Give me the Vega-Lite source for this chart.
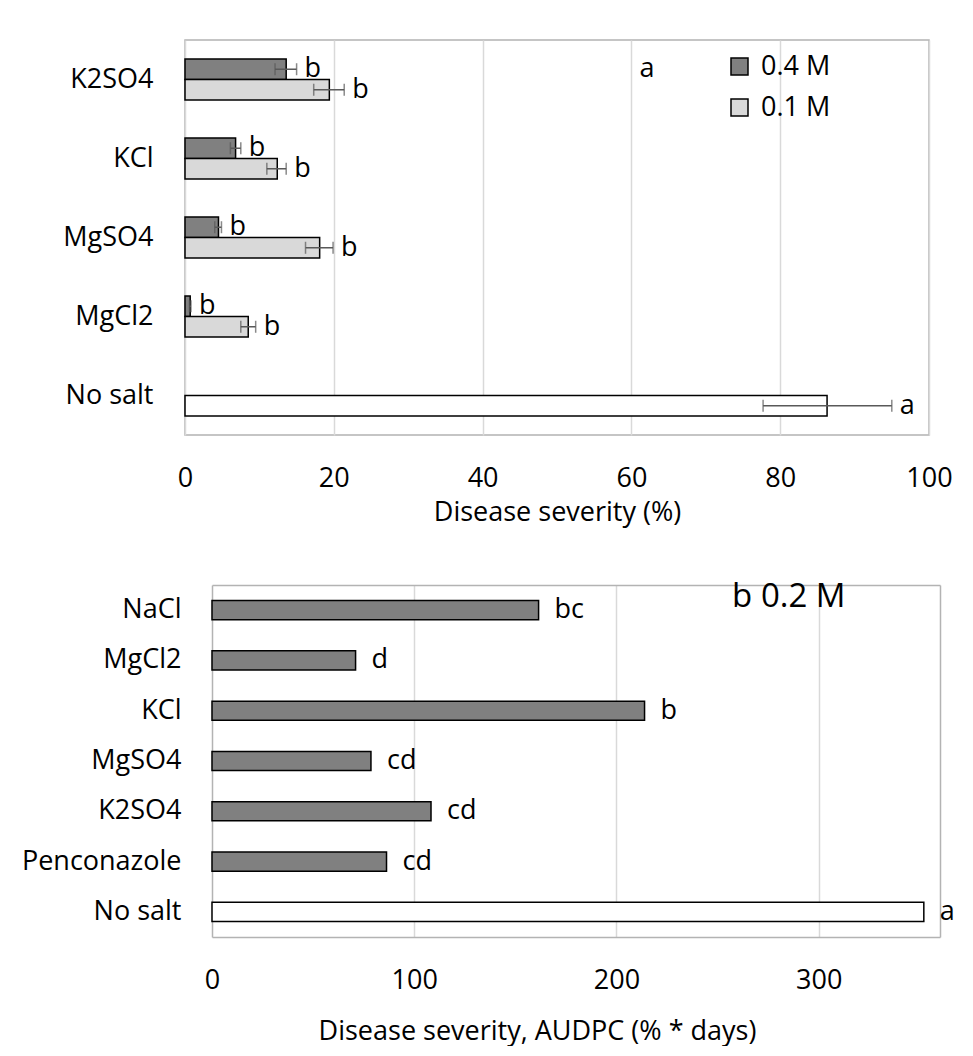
{
  "$schema": "https://vega.github.io/schema/vega-lite/v6.json",
  "background": "white",
  "padding": {"left": 21, "top": 39, "right": 5, "bottom": 2},
  "config": {
    "font": "Open Sans",
    "view": {"stroke": "#b3b3b3", "strokeWidth": 1.5},
    "axis": {
      "labelFont": "Open Sans", "titleFont": "Open Sans",
      "labelFontSize": 27, "titleFontSize": 27,
      "labelColor": "#000000", "titleColor": "#000000",
      "titleFontWeight": "normal", "ticks": false, "tickSize": 0, "domain": false
    },
    "text": {"font": "Open Sans", "color": "#000000"}
  },
  "spacing": 54,
  "resolve": {"scale": {"color": "independent", "x": "independent", "y": "independent"}, "legend": {"color": "independent"}},
  "vconcat": [
    {
      "width": 744,
      "height": 395,
      "data": {"values": [
        {"salt": "K2SO4", "conc": "0.4 M", "fillkey": "0.4 M", "value": 13.6, "lo": 12.1, "hi": 15.0, "letter": "b"},
        {"salt": "K2SO4", "conc": "0.1 M", "fillkey": "0.1 M", "value": 19.4, "lo": 17.3, "hi": 21.4, "letter": "b"},
        {"salt": "KCl", "conc": "0.4 M", "fillkey": "0.4 M", "value": 6.8, "lo": 6.1, "hi": 7.5, "letter": "b"},
        {"salt": "KCl", "conc": "0.1 M", "fillkey": "0.1 M", "value": 12.4, "lo": 11.0, "hi": 13.6, "letter": "b"},
        {"salt": "MgSO4", "conc": "0.4 M", "fillkey": "0.4 M", "value": 4.5, "lo": 4.0, "hi": 4.9, "letter": "b"},
        {"salt": "MgSO4", "conc": "0.1 M", "fillkey": "0.1 M", "value": 18.1, "lo": 16.2, "hi": 19.9, "letter": "b"},
        {"salt": "MgCl2", "conc": "0.4 M", "fillkey": "0.4 M", "value": 0.7, "lo": 0.6, "hi": 0.8, "letter": "b"},
        {"salt": "MgCl2", "conc": "0.1 M", "fillkey": "0.1 M", "value": 8.5, "lo": 7.5, "hi": 9.5, "letter": "b"},
        {"salt": "No salt", "conc": "0.1 M", "fillkey": "No salt", "value": 86.3, "lo": 77.7, "hi": 95.0, "letter": "a"}
      ]},
      "encoding": {
        "y": {
          "field": "salt", "type": "nominal",
          "sort": ["K2SO4", "KCl", "MgSO4", "MgCl2", "No salt"],
          "scale": {"paddingInner": 0.48, "paddingOuter": 0.24},
          "axis": {"title": null, "labelPadding": 32}
        }
      },
      "layer": [
        {
          "mark": {"type": "bar", "stroke": "#000000", "strokeWidth": 1.5},
          "encoding": {
            "yOffset": {"field": "conc", "type": "nominal", "sort": ["0.4 M", "0.1 M"]},
            "x": {
              "field": "value", "type": "quantitative",
              "scale": {"domain": [0, 100], "nice": false},
              "axis": {
                "title": "Disease severity (%)", "values": [0, 20, 40, 60, 80, 100],
                "grid": true, "gridColor": "#d9d9d9", "gridWidth": 1.5,
                "labelPadding": 30, "titlePadding": 8, "labelFlush": false
              }
            },
            "color": {
              "field": "fillkey", "type": "nominal",
              "scale": {"domain": ["0.4 M", "0.1 M", "No salt"], "range": ["#808080", "#d9d9d9", "#ffffff"]},
              "legend": {
                "orient": "none", "legendX": 541, "legendY": 13, "title": null,
                "values": ["0.4 M", "0.1 M"], "symbolType": "square", "symbolSize": 289,
                "symbolStrokeColor": "#000000", "symbolStrokeWidth": 1.5,
                "labelFontSize": 27, "labelFont": "Open Sans", "labelColor": "#000000",
                "rowPadding": 13, "labelOffset": 8, "padding": 0
              }
            }
          }
        },
        {
          "mark": {"type": "rule", "color": "#595959", "strokeWidth": 1.5},
          "encoding": {
            "yOffset": {"field": "conc", "type": "nominal", "sort": ["0.4 M", "0.1 M"]},
            "x": {"field": "lo", "type": "quantitative"},
            "x2": {"field": "hi"}
          }
        },
        {
          "mark": {"type": "tick", "color": "#595959", "thickness": 1.5, "size": 12},
          "encoding": {
            "yOffset": {"field": "conc", "type": "nominal", "sort": ["0.4 M", "0.1 M"]},
            "x": {"field": "lo", "type": "quantitative"}
          }
        },
        {
          "mark": {"type": "tick", "color": "#595959", "thickness": 1.5, "size": 12},
          "encoding": {
            "yOffset": {"field": "conc", "type": "nominal", "sort": ["0.4 M", "0.1 M"]},
            "x": {"field": "hi", "type": "quantitative"}
          }
        },
        {
          "mark": {"type": "text", "align": "left", "baseline": "middle", "dx": 8, "fontSize": 27},
          "encoding": {
            "yOffset": {"field": "conc", "type": "nominal", "sort": ["0.4 M", "0.1 M"]},
            "x": {"field": "hi", "type": "quantitative"},
            "text": {"field": "letter"}
          }
        },
        {
          "data": {"values": [{"label": "a"}]},
          "mark": {"type": "text", "align": "left", "baseline": "middle", "fontSize": 27, "dy": -11},
          "encoding": {
            "x": {"datum": 61.1, "type": "quantitative"},
            "y": {"datum": "K2SO4", "type": "nominal"},
            "text": {"field": "label"}
          }
        }
      ]
    },
    {
      "width": 755,
      "height": 352,
      "view": {"stroke": null},
      "data": {"values": [
        {"salt": "NaCl", "grp": "salt", "value": 161.5, "letter": "bc"},
        {"salt": "MgCl2", "grp": "salt", "value": 71.0, "letter": "d"},
        {"salt": "KCl", "grp": "salt", "value": 213.9, "letter": "b"},
        {"salt": "MgSO4", "grp": "salt", "value": 78.6, "letter": "cd"},
        {"salt": "K2SO4", "grp": "salt", "value": 108.3, "letter": "cd"},
        {"salt": "Penconazole", "grp": "salt", "value": 86.3, "letter": "cd"},
        {"salt": "No salt", "grp": "control", "value": 352.0, "letter": "a"}
      ]},
      "encoding": {
        "y": {
          "field": "salt", "type": "nominal",
          "sort": ["NaCl", "MgCl2", "KCl", "MgSO4", "K2SO4", "Penconazole", "No salt"],
          "scale": {"paddingInner": 0.62, "paddingOuter": 0.31},
          "axis": {"title": null, "labelPadding": 31, "offset": -27}
        }
      },
      "resolve": {"axis": {"x": "independent"}},
      "layer": [
        {
          "mark": {"type": "bar", "stroke": "#000000", "strokeWidth": 1.5},
          "encoding": {
            "x": {
              "field": "value", "type": "quantitative",
              "scale": {"domain": [0, 360], "nice": false, "range": [27, 755]},
              "axis": {
                "title": "Disease severity, AUDPC (% * days)", "values": [0, 100, 200, 300, 360],
                "labelExpr": "datum.value === 360 ? '' : datum.label",
                "grid": true,
                "gridColor": {"condition": {"test": "datum.value === 0 || datum.value === 360", "value": "#b3b3b3"}, "value": "#d9d9d9"},
                "gridWidth": 1.5,
                "domain": true, "domainColor": "#b3b3b3", "domainWidth": 1.5,
                "labelPadding": 30, "titlePadding": 25, "labelFlush": false, "titleX": 352
              }
            },
            "color": {
              "field": "grp", "type": "nominal",
              "scale": {"domain": ["salt", "control"], "range": ["#808080", "#ffffff"]},
              "legend": null
            }
          }
        },
        {
          "mark": {"type": "text", "align": "left", "baseline": "middle", "dx": 16, "fontSize": 27},
          "encoding": {
            "x": {"field": "value", "type": "quantitative", "axis": null},
            "text": {"field": "letter"}
          }
        },
        {
          "data": {"values": [{"label": "b 0.2 M"}]},
          "mark": {"type": "text", "align": "left", "baseline": "middle", "fontSize": 33, "dy": -13.5},
          "encoding": {
            "x": {
              "datum": 257.2, "type": "quantitative",
              "axis": {"orient": "top", "labels": false, "grid": false, "ticks": false, "title": null,
                       "domain": true, "domainColor": "#b3b3b3", "domainWidth": 1.5}
            },
            "y": {"datum": "NaCl", "type": "nominal"},
            "text": {"field": "label"}
          }
        }
      ]
    }
  ]
}
